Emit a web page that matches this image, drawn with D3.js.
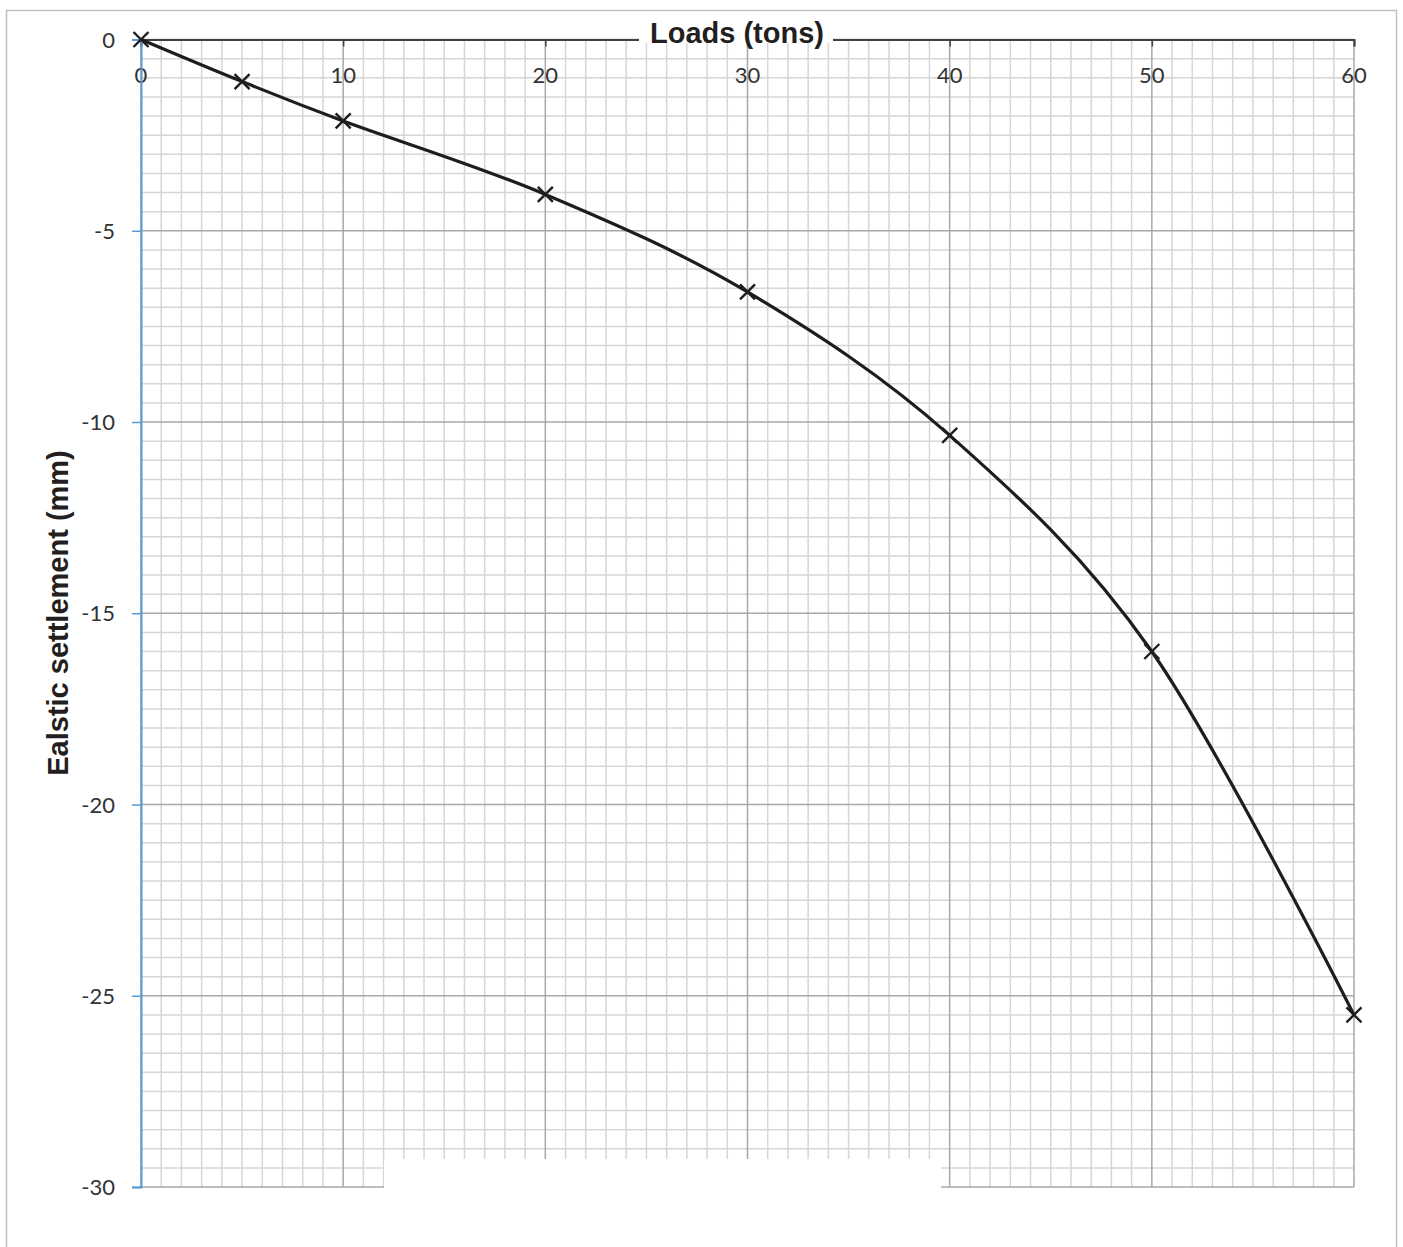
<!DOCTYPE html>
<html><head><meta charset="utf-8">
<script src="https://cdn.jsdelivr.net/npm/d3@7"></script>
<style>html,body{margin:0;padding:0;background:#fff;}</style>
</head><body>
<svg id="c" width="1403" height="1247"></svg>
<script>
const loads = [0, 5, 10, 20, 30, 40, 50, 60];
const settlement = [0, -1.1, -2.13, -4.05, -6.6, -10.35, -16.0, -25.5];
const xTickLabels = [0, 10, 20, 30, 40, 50, 60];
const yTickLabels = [0, -5, -10, -15, -20, -25, -30];
const xTitle = "Loads (tons)";
const yTitle = "Ealstic settlement (mm)";

const svg = d3.select("#c");
const x = d3.scaleLinear().domain([0, 60]).range([141, 1354]);
const y = d3.scaleLinear().domain([0, -30]).range([39.5, 1187]);

// chart border
svg.append("rect").attr("x", 6.5).attr("y", 10.5).attr("width", 1390).attr("height", 1260)
  .attr("fill", "#fff").attr("stroke", "#c0c0c0").attr("stroke-width", 1.5);

const g = svg.append("g");
const xMinor = d3.range(0, 61, 1), yMinor = d3.range(0, -30.01, -0.5);
// minor grid
g.selectAll(".vmin").data(xMinor.filter(d => d % 10 !== 0)).join("line")
  .attr("x1", d => x(d)).attr("x2", d => x(d)).attr("y1", y(0)).attr("y2", y(-30))
  .attr("stroke", "#d6d6d6").attr("stroke-width", 1.5);
g.selectAll(".hmin").data(yMinor.filter(d => Math.abs(d % 5) > 0.01)).join("line")
  .attr("x1", x(0)).attr("x2", x(60)).attr("y1", d => y(d)).attr("y2", d => y(d))
  .attr("stroke", "#d6d6d6").attr("stroke-width", 1.5);
// major grid
g.selectAll(".vmaj").data(xTickLabels).join("line")
  .attr("x1", d => x(d)).attr("x2", d => x(d)).attr("y1", y(0)).attr("y2", y(-30))
  .attr("stroke", "#a8a8a8").attr("stroke-width", 1.5);
g.selectAll(".hmaj").data(yTickLabels).join("line")
  .attr("x1", x(0)).attr("x2", x(60)).attr("y1", d => y(d)).attr("y2", d => y(d))
  .attr("stroke", "#a8a8a8").attr("stroke-width", 1.5);

// white patch at bottom
svg.append("rect").attr("x", 384).attr("y", 1159).attr("width", 557).attr("height", 40).attr("fill", "#fff");

// top axis (x)
const xAxis = d3.axisBottom(x).tickValues(xTickLabels).tickSize(7).tickFormat("");
const xa = svg.append("g").attr("transform", `translate(0,${y(0)})`).call(xAxis);
xa.select(".domain").attr("stroke", "#404040").attr("stroke-width", 2);
xa.selectAll(".tick line").attr("stroke", "#404040").attr("stroke-width", 1.5);
svg.selectAll(".xl").data(xTickLabels).join("text")
  .attr("x", d => x(d)).attr("y", 82.5).attr("text-anchor", "middle")
  .attr("font-family", "Lato, 'Open Sans', sans-serif").attr("font-size", 22).attr("fill", "#333")
  .text(d => d);

// left axis (y)
const yAxis = d3.axisLeft(y).tickValues(yTickLabels).tickSize(9).tickFormat("");
const ya = svg.append("g").attr("transform", `translate(${x(0)},0)`).call(yAxis);
ya.select(".domain").attr("stroke", "#5b9bd5").attr("stroke-width", 2);
ya.selectAll(".tick line").attr("stroke", "#5b9bd5").attr("stroke-width", 1.5);
svg.selectAll(".yl").data(yTickLabels).join("text")
  .attr("x", 115).attr("y", d => y(d) + 8).attr("text-anchor", "end")
  .attr("font-family", "Lato, 'Open Sans', sans-serif").attr("font-size", 22).attr("fill", "#333")
  .text(d => d);

// titles
svg.append("rect").attr("x", 639).attr("y", 35).attr("width", 194).attr("height", 8).attr("fill", "#fff");
svg.append("text").attr("x", 737).attr("y", 43).attr("text-anchor", "middle")
  .attr("font-family", "'Liberation Sans', Arial, sans-serif").attr("font-weight", "bold")
  .attr("font-size", 29).attr("fill", "#231f20").text(xTitle);
svg.append("text").attr("transform", "translate(68,613) rotate(-90)").attr("text-anchor", "middle")
  .attr("font-family", "'Liberation Sans', Arial, sans-serif").attr("font-weight", "bold")
  .attr("font-size", 29).attr("fill", "#231f20").text(yTitle);

// series
const pts = loads.map((d, i) => [d, settlement[i]]);
const line = d3.line().x(d => x(d[0])).y(d => y(d[1])).curve(d3.curveCardinal.tension(0));
svg.append("path").datum(pts).attr("d", line).attr("fill", "none")
  .attr("stroke", "#1f1c1d").attr("stroke-width", 3.2);
const m = 7.5;
const mk = svg.selectAll(".mk").data(pts).join("g")
  .attr("transform", d => `translate(${x(d[0])},${y(d[1])})`);
mk.append("path").attr("d", `M${-m},${-m}L${m},${m}M${-m},${m}L${m},${-m}`)
  .attr("stroke", "#1f1c1d").attr("stroke-width", 2.4).attr("fill", "none");
</script>
</body></html>
